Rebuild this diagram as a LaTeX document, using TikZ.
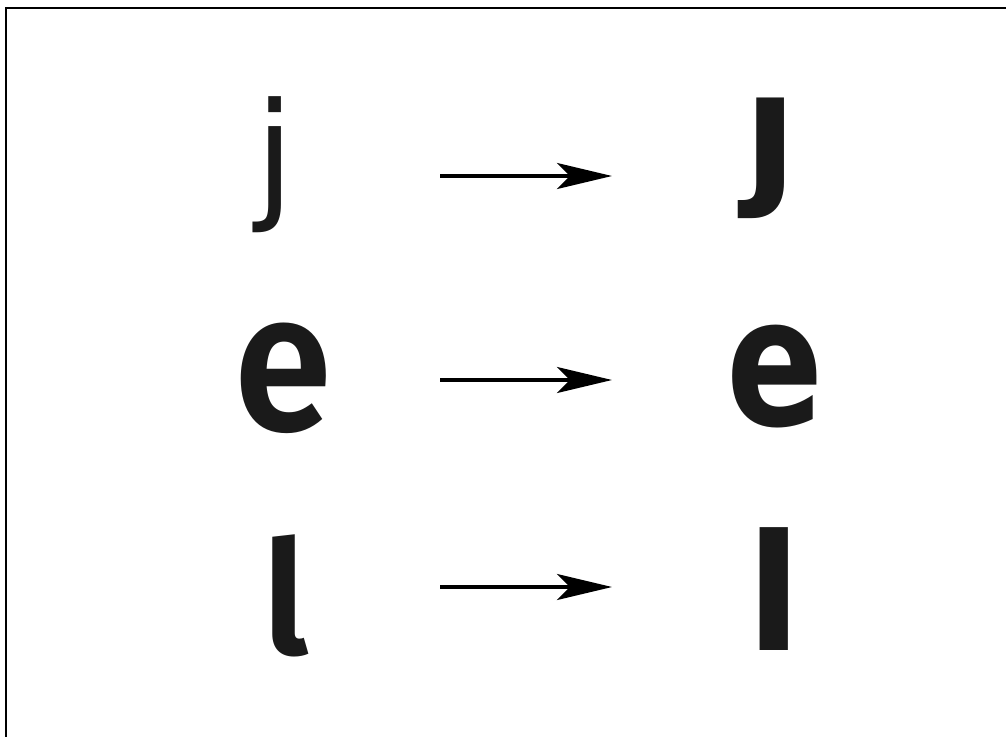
\documentclass[tikz,border=0pt]{standalone}
\usepackage{fontspec}
\definecolor{inkblack}{HTML}{1A1A1A}
\newfontfamily\leftface{Fira Sans}[UprightFont=* SemiBold]
\newfontfamily\rightface{DejaVu Sans}
\usepackage{tikz}
\usetikzlibrary{arrows.meta, positioning}

\begin{document}
\begin{tikzpicture}[x=0.01cm, y=-0.01cm,
  glyph/.style={inner sep=0pt, text=inkblack},
  mapsto/.style={line width=1pt, -{Stealth[length=0.55cm, width=0.26cm, inset=0.13cm]}}]
  \useasboundingbox (0,0) rectangle (1006,736);
  % frame
  \draw[line width=0.7pt] (6,8) rectangle (1014,744);
  % source letters
  \node[glyph, font=\rightface\fontsize{40}{40}\selectfont] (jsrc) at (275,165) {j};
  \node[glyph, font=\leftface\fontsize{56}{56}\selectfont] (esrc) at (283,378) {\scalebox{0.9}[1]{e}};
  \node[glyph, font=\leftface\fontsize{45}{45}\selectfont] (lsrc) at (286,596) {l};
  % target letters
  \node[glyph, font=\rightface\bfseries\fontsize{45}{45}\selectfont] (jdst) at (771,158) {ȷ};
  \node[glyph, font=\rightface\bfseries\fontsize{51}{51}\selectfont] (edst) at (775,377) {\scalebox{0.8}[1]{e}};
  \node[glyph, font=\rightface\bfseries\fontsize{46}{46}\selectfont] (ldst) at (774,589) {l};
  % arrows
  \coordinate (jfrom) at (440,176);  \coordinate (jto) at (612,176);
  \coordinate (efrom) at (440,380);  \coordinate (eto) at (612,380);
  \coordinate (lfrom) at (440,587);  \coordinate (lto) at (612,587);
  \draw[mapsto] (jfrom) -- (jto);
  \draw[mapsto] (efrom) -- (eto);
  \draw[mapsto] (lfrom) -- (lto);
\end{tikzpicture}
\end{document}
